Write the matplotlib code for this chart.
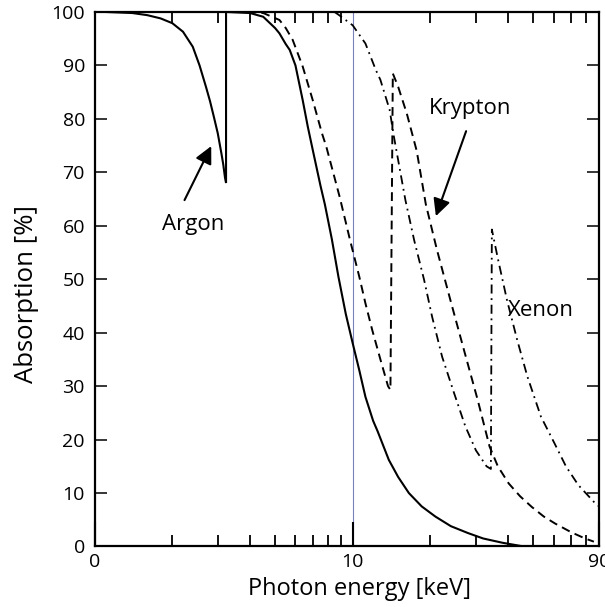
import numpy as np
import matplotlib
matplotlib.use("Agg")
import matplotlib.pyplot as plt
from matplotlib.ticker import FixedLocator, FixedFormatter, NullFormatter

plt.rcParams['font.family'] = ['Open Sans', 'DejaVu Sans']

# absorption curves [%] vs photon energy [keV], read per segment
argon_e = [1.1, 1.4, 1.6, 1.8, 2.0, 2.2, 2.4, 2.55, 2.7, 2.8, 2.9, 3.0, 3.1, 3.15, 3.2, 3.23,
           3.23, 4.0, 4.5, 5.0, 5.2, 5.5, 5.7, 6.0, 6.4, 6.7, 7.0, 7.5, 7.8, 8.3, 8.8, 9.4,
           10.0, 10.6, 11.2, 12.0, 12.5, 13.8, 15.0, 16.5, 18.5, 20.9, 24.0, 28.0, 32.0,
           38.0, 46.0]
argon_abs = [100, 99.8, 99.4, 98.8, 97.9, 96.3, 93.5, 90, 86, 83.3, 80.3, 77.3, 73.5, 71.5, 69, 68,
             100, 99.8, 99.1, 97, 96, 94, 92.9, 90, 83.5, 78.5, 74.2, 67.5, 64, 57.5, 50.5, 43.5,
             38, 33, 28, 23.5, 21.5, 16.2, 13, 10, 7.5, 5.6, 3.8, 2.5, 1.5,
             0.7, 0]

krypton_e = [3.9, 4.5, 5.2, 5.5, 5.85, 6.4, 7.0, 7.6, 7.9, 8.9, 9.8, 10.6, 11.2, 11.9, 12.8, 13.7,
             14.0, 14.3, 15.0, 16.2, 17.7, 19.2, 21.2, 23.9, 27.0, 30.5, 33.9,
             36.5, 40.2, 44.5, 49.4, 55.0, 60.8, 70.0, 79.4, 86.0]
krypton_abs = [100, 99.8, 98.5, 97, 94.8, 89.8, 83.5, 77.3, 74.8, 65.4, 57, 50.5, 45.5, 40.5, 35, 30,
               29.3, 88.5, 86, 81, 74, 64, 55.5, 46.1, 36.7, 27.4, 18.7,
               15, 11.8, 9.4, 7.4, 5.6, 4.3, 2.7, 1.5, 0.9]

xenon_e = [8.5, 8.8, 10.0, 11.2, 12.3, 12.8, 13.9, 14.4, 16.0, 17.3, 18.9, 20.3, 22.2, 24.7, 27.3,
           30.0, 33.0, 34.3, 34.6, 36.6, 39.6, 43.4, 47.5, 53.6, 60.5, 67.0, 74.8, 86.9, 90.0]
xenon_abs = [100, 99.5, 97.5, 94.1, 89.1, 87.3, 81.7, 77, 64.8, 57.3, 49.9, 43, 35.5, 28.7, 22.5,
             18, 15, 14.5, 59.3, 53.6, 46.1, 38.6, 31.8, 24.3, 19.3, 15, 11.5, 8.1, 7.5]

x_major = [1, 10, 90]
x_major_labels = ["0", "10", "90"]
x_minor = [2, 3, 4, 5, 6, 7, 8, 9, 10, 20, 30, 40, 50, 60, 70, 80]
y_ticks = list(range(0, 101, 10))

fig = plt.figure(figsize=(6.05, 6.07), dpi=100)
ax = fig.add_axes([0.1564, 0.0997, 0.8337, 0.8806])

ax.axvline(10, color='#7b80b8', lw=0.8, zorder=1)

ax.plot(argon_e, argon_abs, color='black', lw=1.5, solid_joinstyle='miter')
ax.plot(krypton_e, krypton_abs, color='black', lw=1.4, dashes=(4.5, 2.8))
ax.plot(xenon_e, xenon_abs, color='black', lw=1.3, dashes=(5, 2.6, 1, 2.6))

ax.set_xscale('log')
ax.set_xlim(1, 90)
ax.set_ylim(0, 100)

ax.xaxis.set_major_locator(FixedLocator(x_major))
ax.xaxis.set_major_formatter(FixedFormatter(x_major_labels))
ax.xaxis.set_minor_locator(FixedLocator(x_minor))
ax.xaxis.set_minor_formatter(NullFormatter())
ax.set_yticks(y_ticks)

ax.tick_params(axis='x', which='major', direction='in', length=17, width=1.5,
               top=False, labelsize=14, pad=5)
ax.tick_params(axis='x', which='minor', direction='in', length=8, width=1.3,
               top=True, bottom=True)
ax.tick_params(axis='y', direction='in', length=8.5, width=1.1, left=True, right=True,
               labelsize=14, pad=7)

for s in ax.spines.values():
    s.set_linewidth(1.6)

ax.set_xlabel('Photon energy [keV]', fontsize=17)
ax.set_ylabel('Absorption [%]', fontsize=18.5)
ax.xaxis.set_label_coords(0.525, -0.058)
ax.yaxis.set_label_coords(-0.11, 0.472)

arrow = dict(arrowstyle='-|>', color='black', lw=1.5, mutation_scale=26,
             shrinkA=0, shrinkB=0)
ax.annotate('', xy=(2.83, 74.9), xytext=(2.23, 64.8), arrowprops=arrow)
ax.text(2.40, 60.3, 'Argon', fontsize=16, ha='center', va='center')

ax.annotate('', xy=(21.0, 61.8), xytext=(27.5, 77.7), arrowprops=arrow)
ax.text(28.5, 82.0, 'Krypton', fontsize=16, ha='center', va='center')

ax.text(53.8, 44.1, 'Xenon', fontsize=16, ha='center', va='center')

fig.savefig('out.png', dpi=100)
